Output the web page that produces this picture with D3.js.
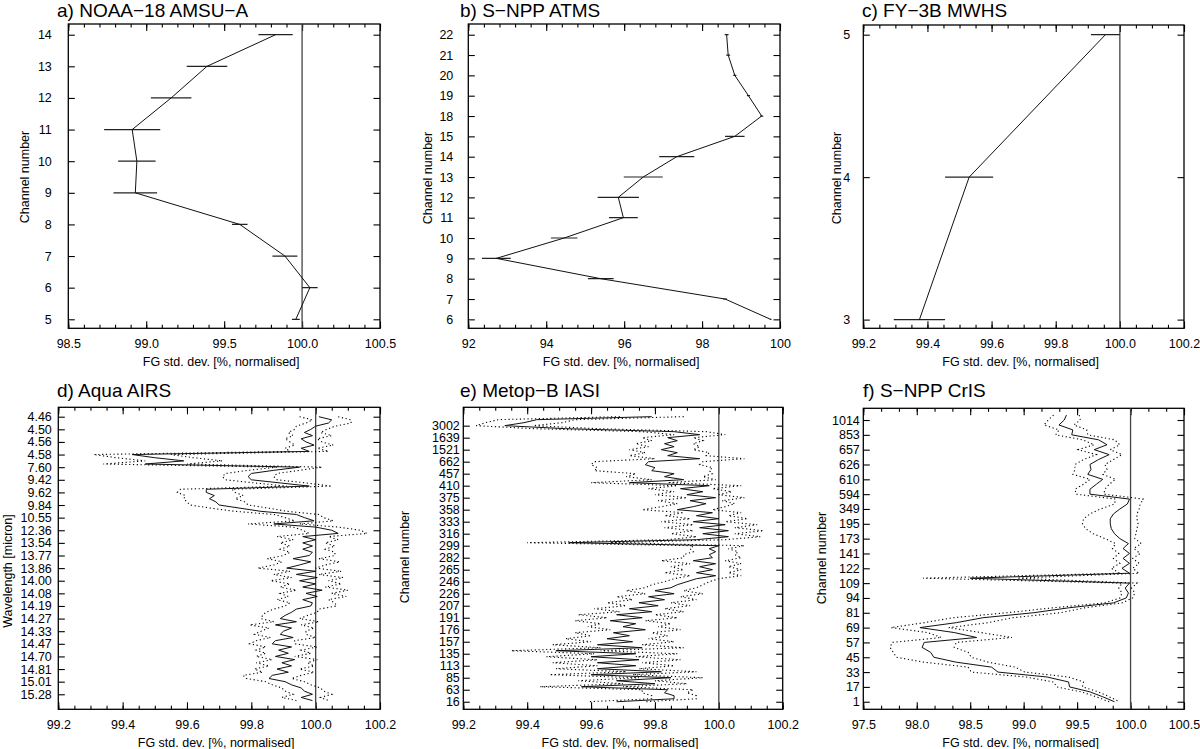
<!DOCTYPE html>
<html>
<head>
<meta charset="utf-8">
<script src="https://cdn.jsdelivr.net/npm/d3@7"></script>
<style>
  body { margin: 0; background: #fff; }
  svg { display: block; font-family: "Liberation Sans", Arial, Helvetica, sans-serif; }
</style>
</head>
<body>
<svg id="fig" width="1200" height="749"></svg>
<script>
// FG std. dev. normalised to 100 %, per instrument

// a) NOAA-18 AMSU-A
var aChannels = [14, 13, 12, 11, 10, 9, 8, 7, 6, 5];
var aValues = [99.83, 99.39, 99.16, 98.91, 98.94, 98.93, 99.60, 99.89, 100.05, 99.96];
var aErr = [0.11, 0.13, 0.13, 0.18, 0.12, 0.14, 0.05, 0.08, 0.05, 0.025];

// b) S-NPP ATMS (channels in plotted order, top to bottom)
var bChannels = ['22', '21', '20', '19', '18', '15', '14', '13', '12', '11', '10', '9', '8', '7', '6'];
var bValues = [98.63, 98.67, 98.84, 99.19, 99.53, 98.84, 97.35, 96.49, 95.85, 95.98, 94.46, 92.72, 95.40, 98.59, 99.76];
var bErr = [0.05, 0.05, 0.04, 0.04, 0.04, 0.25, 0.45, 0.5, 0.53, 0.37, 0.34, 0.37, 0.33, 0.05, 0.02];

// c) FY-3B MWHS
var cChannels = [5, 4, 3];
var cValues = [99.955, 99.53, 99.375];
var cErr = [0.045, 0.075, 0.08];

// d) Aqua AIRS - tick labels and values read every quarter label row
var dLabels = ['4.46', '4.50', '4.56', '4.58', '7.60', '9.42', '9.62', '9.84', '10.55', '12.36', '13.54', '13.77',
  '13.86', '14.00', '14.08', '14.19', '14.27', '14.33', '14.47', '14.70', '14.81', '15.01', '15.28'];
var dValues = [100.01, 100.05, 100.04, 100.0, 99.985, 99.965, 99.99, 99.955, 99.97, 99.995, 99.955, 99.98,
  99.43, 99.50, 99.59, 99.47, 99.95, 99.87, 99.80, 99.79, 99.80, 99.89, 99.98,
  99.66, 99.66, 99.685, 99.67, 99.69, 99.70, 99.765, 99.83, 99.94,
  99.965, 99.995, 99.87, 100.0, 100.05, 100.07, 99.96, 100.0,
  99.96, 99.99, 99.96, 99.99, 99.98,
  99.93, 99.985, 99.95, 99.91, 100.0, 99.94, 100.005, 99.95, 100.0, 99.96, 100.02, 99.97, 100.005, 99.96, 99.99, 99.985,
  99.94, 99.925, 99.905, 99.89, 99.94, 99.875, 99.925, 99.90, 99.89, 99.93, 99.875, 99.865, 99.925, 99.885,
  99.915, 99.875, 99.935, 99.895, 99.925, 99.88, 99.915, 99.865, 99.855, 99.905, 99.925, 99.955, 99.965, 99.99,
  99.955, 99.99];
var dErr = [0.06, 0.06, 0.07, 0.06, 0.05, 0.05, 0.06, 0.05, 0.05, 0.06, 0.05, 0.06,
  0.12, 0.12, 0.12, 0.13,
  0.07, 0.08, 0.08, 0.08, 0.08, 0.08, 0.07,
  0.08, 0.09, 0.09, 0.08, 0.09, 0.09, 0.09, 0.08, 0.07,
  0.06, 0.06, 0.08, 0.07, 0.09, 0.09, 0.08, 0.07,
  0.07, 0.07, 0.07, 0.07, 0.08,
  0.08, 0.09, 0.08, 0.09, 0.08, 0.07, 0.08, 0.09, 0.08, 0.07, 0.08, 0.08, 0.09, 0.08, 0.07, 0.08,
  0.07, 0.08, 0.07, 0.06, 0.07, 0.08, 0.07, 0.07, 0.08, 0.07, 0.06, 0.07, 0.08, 0.07,
  0.07, 0.06, 0.07, 0.08, 0.07, 0.07, 0.08, 0.09, 0.07, 0.06, 0.06, 0.06, 0.06, 0.06,
  0.06, 0.05];

// e) Metop-B IASI - values every quarter label row, first row above '3002'
var eLabels = ['3002', '1639', '1521', '662', '457', '410', '375', '358', '333', '316', '299', '282',
  '265', '246', '226', '207', '191', '176', '157', '135', '113', '85', '63', '16'];
var eValues = [99.79, 99.43, 99.39, 99.33, 99.52, 99.86, 99.94, 99.84, 99.87, 99.83, 99.86, 99.82,
  99.87, 99.84, 99.94, 99.78, 99.77, 99.80, 99.79, 99.86, 99.83, 99.89, 99.72, 99.97,
  99.88, 99.95, 99.90, 99.99, 99.91, 99.96, 99.92, 99.87, 99.98, 99.93, 100.0, 99.92,
  100.02, 99.94, 100.03, 99.95, 100.03, 99.93, 99.53, 100.0, 99.97, 99.99, 99.97, 99.98,
  99.92, 99.99, 99.94, 99.98, 99.93, 99.99, 99.93, 99.90, 99.87, 99.85, 99.80, 99.86,
  99.78, 99.83, 99.75, 99.81, 99.72, 99.79, 99.68, 99.76, 99.66, 99.74, 99.70, 99.77,
  99.67, 99.72, 99.65, 99.73, 99.62, 99.76, 99.49, 99.74, 99.60, 99.75, 99.62, 99.74,
  99.62, 99.82, 99.60, 99.85, 99.68, 99.80, 99.57, 99.84, 99.83, 99.86, 99.86, 99.68];
var eErr = [0.10, 0.12, 0.12, 0.09, 0.10, 0.10, 0.08, 0.08, 0.08, 0.09, 0.08, 0.10,
  0.10, 0.12, 0.14, 0.17, 0.17, 0.18, 0.18, 0.12, 0.12, 0.10, 0.12, 0.10,
  0.10, 0.09, 0.10, 0.09, 0.10, 0.09, 0.10, 0.11, 0.09, 0.10, 0.09, 0.10,
  0.10, 0.11, 0.11, 0.10, 0.10, 0.09, 0.13, 0.08, 0.06, 0.07, 0.08, 0.09,
  0.10, 0.08, 0.09, 0.09, 0.10, 0.08, 0.07, 0.07, 0.08, 0.08, 0.09, 0.09,
  0.10, 0.10, 0.10, 0.10, 0.11, 0.10, 0.12, 0.11, 0.11, 0.11, 0.11, 0.11,
  0.12, 0.12, 0.13, 0.13, 0.14, 0.13, 0.14, 0.13, 0.14, 0.13, 0.14, 0.12,
  0.13, 0.11, 0.13, 0.10, 0.12, 0.10, 0.13, 0.08, 0.07, 0.07, 0.07, 0.09];

// f) S-NPP CrIS - values every third of a label row, first row above '1014'
var fLabels = ['1014', '853', '657', '626', '610', '594', '349', '195', '173', '141', '122', '109',
  '94', '81', '69', '57', '45', '33', '17', '1'];
var fValues = [99.40, 99.38, 99.33, 99.46, 99.45, 99.70, 99.78, 99.66, 99.80, 99.70,
  99.62, 99.63, 99.60, 99.74, 99.68, 99.62, 99.62, 99.99, 99.97, 99.90,
  99.84, 99.81, 99.81, 99.82, 99.85, 99.90, 99.98, 99.93, 99.99, 99.93,
  99.99, 99.92, 99.99, 98.50, 99.99, 99.95, 99.98, 99.96, 99.84, 99.42,
  99.09, 98.62, 98.37, 98.03, 98.35, 98.56, 98.07, 98.05, 98.13, 98.16,
  98.37, 98.70, 98.76, 99.22, 99.42, 99.43, 99.62, 99.74, 99.85];
var fErr = [0.12, 0.15, 0.14, 0.13, 0.15, 0.15, 0.12, 0.15, 0.12, 0.14,
  0.14, 0.15, 0.14, 0.12, 0.12, 0.14, 0.13, 0.13, 0.12, 0.18,
  0.22, 0.25, 0.26, 0.24, 0.20, 0.14, 0.12, 0.10, 0.10, 0.09,
  0.09, 0.10, 0.09, 0.44, 0.07, 0.06, 0.06, 0.06, 0.08, 0.15,
  0.25, 0.28, 0.30, 0.27, 0.25, 0.33, 0.30, 0.30, 0.35, 0.35,
  0.30, 0.22, 0.25, 0.20, 0.14, 0.12, 0.08, 0.06, 0.05];

var xTitle = 'FG std. dev. [%, normalised]';

var svg = d3.select('#fig');
var FONT = '"Liberation Sans", Arial, Helvetica, sans-serif';

// build an axis group with inward ticks and optional labels
function axisGroup(g, axis, tx, ty) {
  var a = g.append('g').attr('transform', 'translate(' + tx + ',' + ty + ')').call(axis);
  a.select('.domain').remove();
  a.attr('font-family', FONT).attr('font-size', 12.5);
  a.selectAll('line').attr('stroke', '#000').attr('stroke-width', 1.1);
  a.selectAll('text').attr('fill', '#000');
  return a;
}

function drawPanel(p) {
  var g = svg.append('g');
  var x = d3.scaleLinear().domain(p.xDomain).range([p.left, p.right]);
  var y = d3.scaleLinear().domain(p.yDomain).range([p.bottom, p.top]);

  var major = d3.range(p.xDomain[0], p.xDomain[1] + 1e-6, p.xMajor);
  var nMinor = Math.round((p.xDomain[1] - p.xDomain[0]) / p.xMinor);
  var minor = d3.range(0, nMinor + 1).map(function(i) { return p.xDomain[0] + i * p.xMinor; });

  // x ticks, bottom with labels, top mirrored
  axisGroup(g, d3.axisBottom(x).tickValues(major).tickSizeInner(-7).tickSizeOuter(0)
    .tickPadding(11).tickFormat(d3.format(p.xFmt)), 0, p.bottom);
  axisGroup(g, d3.axisBottom(x).tickValues(minor).tickSizeInner(-3.5).tickSizeOuter(0)
    .tickFormat(''), 0, p.bottom);
  axisGroup(g, d3.axisTop(x).tickValues(major).tickSizeInner(-7).tickSizeOuter(0)
    .tickFormat(''), 0, p.top);
  axisGroup(g, d3.axisTop(x).tickValues(minor).tickSizeInner(-3.5).tickSizeOuter(0)
    .tickFormat(''), 0, p.top);

  // y ticks, left with labels, right mirrored
  axisGroup(g, d3.axisLeft(y).tickValues(p.yTicks).tickSizeInner(-6.5).tickSizeOuter(0)
    .tickPadding(p.yPad).tickFormat(function(d, i) { return p.yLabels[i]; }), p.left, 0);
  axisGroup(g, d3.axisRight(y).tickValues(p.yTicks).tickSizeInner(-6.5).tickSizeOuter(0)
    .tickFormat(''), p.right, 0);

  // frame
  g.append('rect')
    .attr('x', p.left).attr('y', p.top)
    .attr('width', p.right - p.left).attr('height', p.bottom - p.top)
    .attr('fill', 'none').attr('stroke', '#000').attr('stroke-width', 1.3);

  var clipId = 'clip-' + p.id;
  svg.append('clipPath').attr('id', clipId).append('rect')
    .attr('x', p.left).attr('y', p.top)
    .attr('width', p.right - p.left).attr('height', p.bottom - p.top);
  var plot = g.append('g').attr('clip-path', 'url(#' + clipId + ')');

  // reference line at 100 %
  if (p.xDomain[1] > 100.001) {
    plot.append('line')
      .attr('x1', x(100)).attr('x2', x(100))
      .attr('y1', p.top).attr('y2', p.bottom)
      .attr('stroke', '#444').attr('stroke-width', 1.3);
  }

  var pts = p.values.map(function(v, i) {
    return { t: p.pos(i), v: v, e: p.err[i] };
  });

  if (p.dotted) {
    ['lo', 'hi'].forEach(function(side) {
      var s = side === 'lo' ? -1 : 1;
      plot.append('path')
        .datum(pts)
        .attr('d', d3.line().x(function(d) { return x(d.v + s * d.e); }).y(function(d) { return y(d.t); }))
        .attr('fill', 'none').attr('stroke', '#000').attr('stroke-width', 1.1)
        .attr('stroke-dasharray', '1.2,2.6');
    });
  } else {
    plot.selectAll('line.err')
      .data(pts)
      .enter().append('line')
      .attr('class', 'err')
      .attr('x1', function(d) { return x(d.v - d.e); })
      .attr('x2', function(d) { return x(d.v + d.e); })
      .attr('y1', function(d) { return y(d.t); })
      .attr('y2', function(d) { return y(d.t); })
      .attr('stroke', '#222').attr('stroke-width', 1.2);
  }

  plot.append('path')
    .datum(pts)
    .attr('d', d3.line().x(function(d) { return x(d.v); }).y(function(d) { return y(d.t); }))
    .attr('fill', 'none').attr('stroke', '#111').attr('stroke-width', 1);

  // titles
  g.append('text')
    .attr('x', p.titleX).attr('y', p.titleY)
    .attr('font-family', FONT).attr('font-size', 19)
    .text(p.title);
  g.append('text')
    .attr('transform', 'translate(' + p.yTitleX + ',' + p.yTitleY + ') rotate(-90)')
    .attr('text-anchor', 'middle').attr('dominant-baseline', 'central')
    .attr('font-family', FONT).attr('font-size', 12.5)
    .text(p.yTitle);
  g.append('text')
    .attr('x', (p.left + p.right) / 2 - 3).attr('y', p.bottom + 37.5)
    .attr('text-anchor', 'middle')
    .attr('font-family', FONT).attr('font-size', 12.5)
    .text(xTitle);
}

function indexOf(i) { return i; }

drawPanel({
  id: 'a', title: 'a) NOAA\u221218 AMSU\u2212A', titleX: 57, titleY: 17,
  left: 68.3, right: 380, top: 24, bottom: 328.3,
  xDomain: [98.5, 100.5], xMajor: 0.5, xMinor: 0.1, xFmt: '.1f',
  yDomain: [4.715, 14.338], yTicks: aChannels, yLabels: aChannels.map(String), yPad: 16.5,
  values: aValues, err: aErr, pos: function(i) { return aChannels[i]; },
  yTitle: 'Channel number', yTitleX: 25, yTitleY: 177
});

drawPanel({
  id: 'b', title: 'b) S\u2212NPP ATMS', titleX: 460, titleY: 17,
  left: 468.3, right: 780, top: 24, bottom: 328.3,
  xDomain: [92, 100], xMajor: 2, xMinor: 0.4, xFmt: 'd',
  yDomain: [14.44, -0.526], yTicks: d3.range(bChannels.length), yLabels: bChannels, yPad: 15,
  values: bValues, err: bErr, pos: indexOf,
  yTitle: 'Channel number', yTitleX: 428, yTitleY: 178
});

drawPanel({
  id: 'c', title: 'c) FY\u22123B MWHS', titleX: 862, titleY: 17,
  left: 863.3, right: 1184, top: 25, bottom: 328.3,
  xDomain: [99.2, 100.2], xMajor: 0.2, xMinor: 0.05, xFmt: '.1f',
  yDomain: [2.939, 5.068], yTicks: cChannels, yLabels: cChannels.map(String), yPad: 13,
  values: cValues, err: cErr, pos: function(i) { return cChannels[i]; },
  yTitle: 'Channel number', yTitleX: 837, yTitleY: 178
});

drawPanel({
  id: 'd', title: 'd) Aqua AIRS', titleX: 57, titleY: 397, dotted: true,
  left: 58.3, right: 380, top: 407.3, bottom: 709.3,
  xDomain: [99.2, 100.2], xMajor: 0.2, xMinor: 0.05, xFmt: '.1f',
  yDomain: [23.19, -0.745], yTicks: d3.range(dLabels.length), yLabels: dLabels, yPad: 6.5,
  values: dValues, err: dErr, pos: function(i) { return i * 0.25; },
  yTitle: 'Wavelength [micron]', yTitleX: 8, yTitleY: 571
});

drawPanel({
  id: 'e', title: 'e) Metop\u2212B IASI', titleX: 460, titleY: 397, dotted: true,
  left: 463.3, right: 782.7, top: 407.3, bottom: 709.3,
  xDomain: [99.2, 100.2], xMajor: 0.2, xMinor: 0.05, xFmt: '.1f',
  yDomain: [23.63, -1.53], yTicks: d3.range(eLabels.length), yLabels: eLabels, yPad: 3.5,
  values: eValues, err: eErr, pos: function(i) { return -0.75 + i * 0.25; },
  yTitle: 'Channel number', yTitleX: 405, yTitleY: 557
});

drawPanel({
  id: 'f', title: 'f) S\u2212NPP CrIS', titleX: 863, titleY: 397, dotted: true,
  left: 863.3, right: 1184, top: 408.3, bottom: 709.3,
  xDomain: [97.5, 100.5], xMajor: 0.5, xMinor: 0.5 / 3, xFmt: '.1f',
  yDomain: [19.51, -0.79], yTicks: d3.range(fLabels.length), yLabels: fLabels, yPad: 3.5,
  values: fValues, err: fErr, pos: function(i) { return -1 / 3 + i / 3; },
  yTitle: 'Channel number', yTitleX: 822, yTitleY: 558
});
</script>
</body>
</html>
